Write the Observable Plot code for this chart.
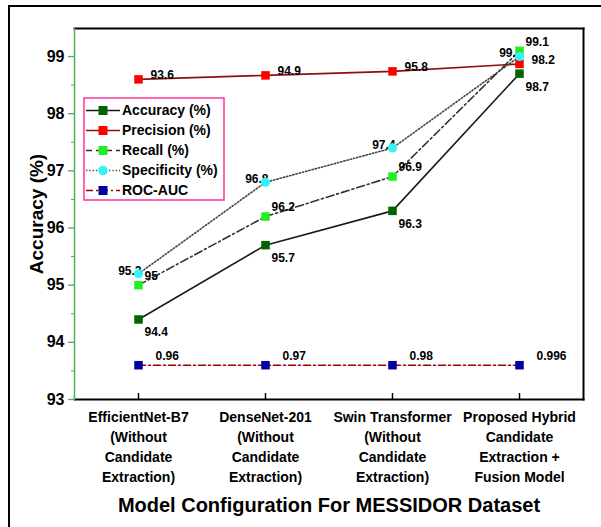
<!DOCTYPE html>
<html><head><meta charset="utf-8">
<script src="https://cdn.jsdelivr.net/npm/d3@7"></script>
<script src="https://cdn.jsdelivr.net/npm/@observablehq/plot@0.6"></script>
<style>
body{margin:0;background:#fff;overflow:hidden}
#wrap{position:relative;width:601px;height:527px;overflow:hidden;background:#fff}
#border{position:absolute;left:8px;top:5px;width:800px;height:800px;border-top:2.5px solid #000;border-left:2.5px solid #000;pointer-events:none}
#legend{position:absolute;left:0;top:0;pointer-events:none}
</style></head><body>
<div id="wrap"><div id="chart"></div><svg id="legend" width="601" height="527"></svg><div id="border"></div></div>
<script>
const models = ["EfficientNet-B7", "DenseNet-201", "Swin Transformer", "Proposed Hybrid"];
const modelLabels = [
  "EfficientNet-B7\n(Without\nCandidate\nExtraction)",
  "DenseNet-201\n(Without\nCandidate\nExtraction)",
  "Swin Transformer\n(Without\nCandidate\nExtraction)",
  "Proposed Hybrid\nCandidate\nExtraction +\nFusion Model"
];
const yTicks = [93, 94, 95, 96, 97, 98, 99];
const yMinorTicks = [93.5, 94.5, 95.5, 96.5, 97.5, 98.5];

const accuracy = [94.4, 95.7, 96.3, 98.7];
const accuracyLabels = ["94.4", "95.7", "96.3", "98.7"];
const precisionPlotted = [98.6, 98.67, 98.74, 98.87];
const precisionLabels = ["93.6", "94.9", "95.8", "98.2"];
const recall = [95.0, 96.2, 96.9, 99.1];
const recallLabels = ["95", "96.2", "96.9", "99.1"];
const specificity = [95.2, 96.8, 97.4, 99.0];
const specificityLabels = ["95.2", "96.8", "97.4", "99.0"];
const rocPlotted = [93.6, 93.6, 93.6, 93.6];
const rocLabels = ["0.96", "0.97", "0.98", "0.996"];

const FONT = "Arial, Liberation Sans, Arimo, Helvetica, sans-serif";
const AXIS_GREEN = "#55aa55";

const series = [
  {name: "Accuracy (%)", values: accuracy, labels: accuracyLabels, symbol: "square", fill: "#006400", line: "#1a1a1a", dash: null, dx: 6, dy: 13, anchor: "start"},
  {name: "Precision (%)", values: precisionPlotted, labels: precisionLabels, symbol: "square", fill: "#ff0000", line: "#8b1010", dash: null, dx: 12, dy: -4, anchor: "start"},
  {name: "Recall (%)", values: recall, labels: recallLabels, symbol: "square", fill: "#22ee22", line: "#333333", dash: "8,3,2,3", dx: 6, dy: -9, anchor: "start"},
  {name: "Specificity (%)", values: specificity, labels: specificityLabels, symbol: "circle", fill: "#33f5f5", line: "#444444", dash: "1.3,2", dx: 3, dy: -3, anchor: "end"},
  {name: "ROC-AUC", values: rocPlotted, labels: rocLabels, symbol: "square", fill: "#0000a0", line: "#990000", dash: "7,3,2,3", dx: 17, dy: -9, anchor: "start"}
];

const rowsOf = s => models.map((m, i) => ({model: m, value: s.values[i], label: s.labels[i]}));
const txt = {fontWeight: "bold", fontFamily: FONT, fill: "#000"};

const marks = [
  Plot.frame({anchor: "top", stroke: "#000", strokeWidth: 2}),
  Plot.frame({anchor: "right", stroke: "#000", strokeWidth: 2}),
  Plot.frame({anchor: "bottom", stroke: "#000", strokeWidth: 2}),
  Plot.frame({anchor: "left", stroke: AXIS_GREEN, strokeWidth: 1.5}),
  Plot.axisY({ticks: yMinorTicks, tickSize: 3, stroke: AXIS_GREEN, text: null, label: null}),
  Plot.axisY({ticks: yTicks, tickFormat: d => String(d), tickSize: 6, tickPadding: 4, stroke: AXIS_GREEN, strokeWidth: 1.3, fontSize: 16, label: null, ...txt}),
  Plot.axisX({tickSize: -6, text: null, label: null, stroke: "#000", strokeWidth: 1.5}),
  Plot.text(models, {x: d => d, frameAnchor: "bottom", lineAnchor: "top", dy: 8, lineHeight: 1.43, text: (d, i) => modelLabels[i], fontSize: 14, ...txt}),
  Plot.text(["Accuracy (%)"], {frameAnchor: "left", textAnchor: "middle", lineAnchor: "middle", rotate: -90, dx: -38, text: d => d, fontSize: 19, ...txt}),
  Plot.text(["Model Configuration For MESSIDOR Dataset"], {frameAnchor: "bottom", textAnchor: "middle", lineAnchor: "middle", dy: 106, text: d => d, fontSize: 20, ...txt})
];

for (const s of series) {
  marks.push(Plot.line(rowsOf(s), {x: "model", y: "value", stroke: s.line, strokeWidth: 1.6, strokeDasharray: s.dash}));
}
for (const s of series) {
  marks.push(Plot.text(rowsOf(s), {x: "model", y: "value", text: "label", dx: s.dx, dy: s.dy, textAnchor: s.anchor, fontSize: 12, ...txt}));
}
const drawOrder = [0, 2, 1, 4, 3];
for (const k of drawOrder) {
  const s = series[k];
  marks.push(Plot.dot(rowsOf(s), {x: "model", y: "value", symbol: s.symbol, r: s.symbol === "square" ? 4.8 : 4.6, fill: s.fill, stroke: "none"}));
}

const chart = Plot.plot({
  width: 601, height: 527,
  marginLeft: 74, marginTop: 28, marginRight: 18, marginBottom: 128,
  x: {type: "point", domain: models, padding: 0.5},
  y: {domain: [93, 99.49]},
  style: {background: "#fff", fontFamily: FONT},
  marks
});
document.getElementById("chart").appendChild(chart);

// legend
const lg = d3.select("#legend");
const L = {x: 84, y: 98, w: 140, h: 102, row: 20};
lg.append("rect").attr("x", L.x).attr("y", L.y).attr("width", L.w).attr("height", L.h)
  .attr("fill", "#fff").attr("stroke", "#ff3399").attr("stroke-width", 1.5);
series.forEach((s, i) => {
  const cy = L.y + 12.5 + i * L.row;
  lg.append("line").attr("x1", L.x + 2).attr("x2", L.x + 36).attr("y1", cy).attr("y2", cy)
    .attr("stroke", s.line).attr("stroke-width", 1.6).attr("stroke-dasharray", s.dash === "8,3,2,3" ? "6,4" : s.dash);
  if (s.symbol === "square") {
    lg.append("rect").attr("x", L.x + 19 - 4.5).attr("y", cy - 4.5).attr("width", 9).attr("height", 9).attr("fill", s.fill);
  } else {
    lg.append("circle").attr("cx", L.x + 19).attr("cy", cy).attr("r", 4.8).attr("fill", s.fill);
  }
  lg.append("text").attr("x", L.x + 38).attr("y", cy).attr("dy", "0.35em")
    .attr("font-family", FONT).attr("font-weight", "bold").attr("font-size", 14).attr("fill", "#000").text(s.name);
});
</script>
</body></html>
